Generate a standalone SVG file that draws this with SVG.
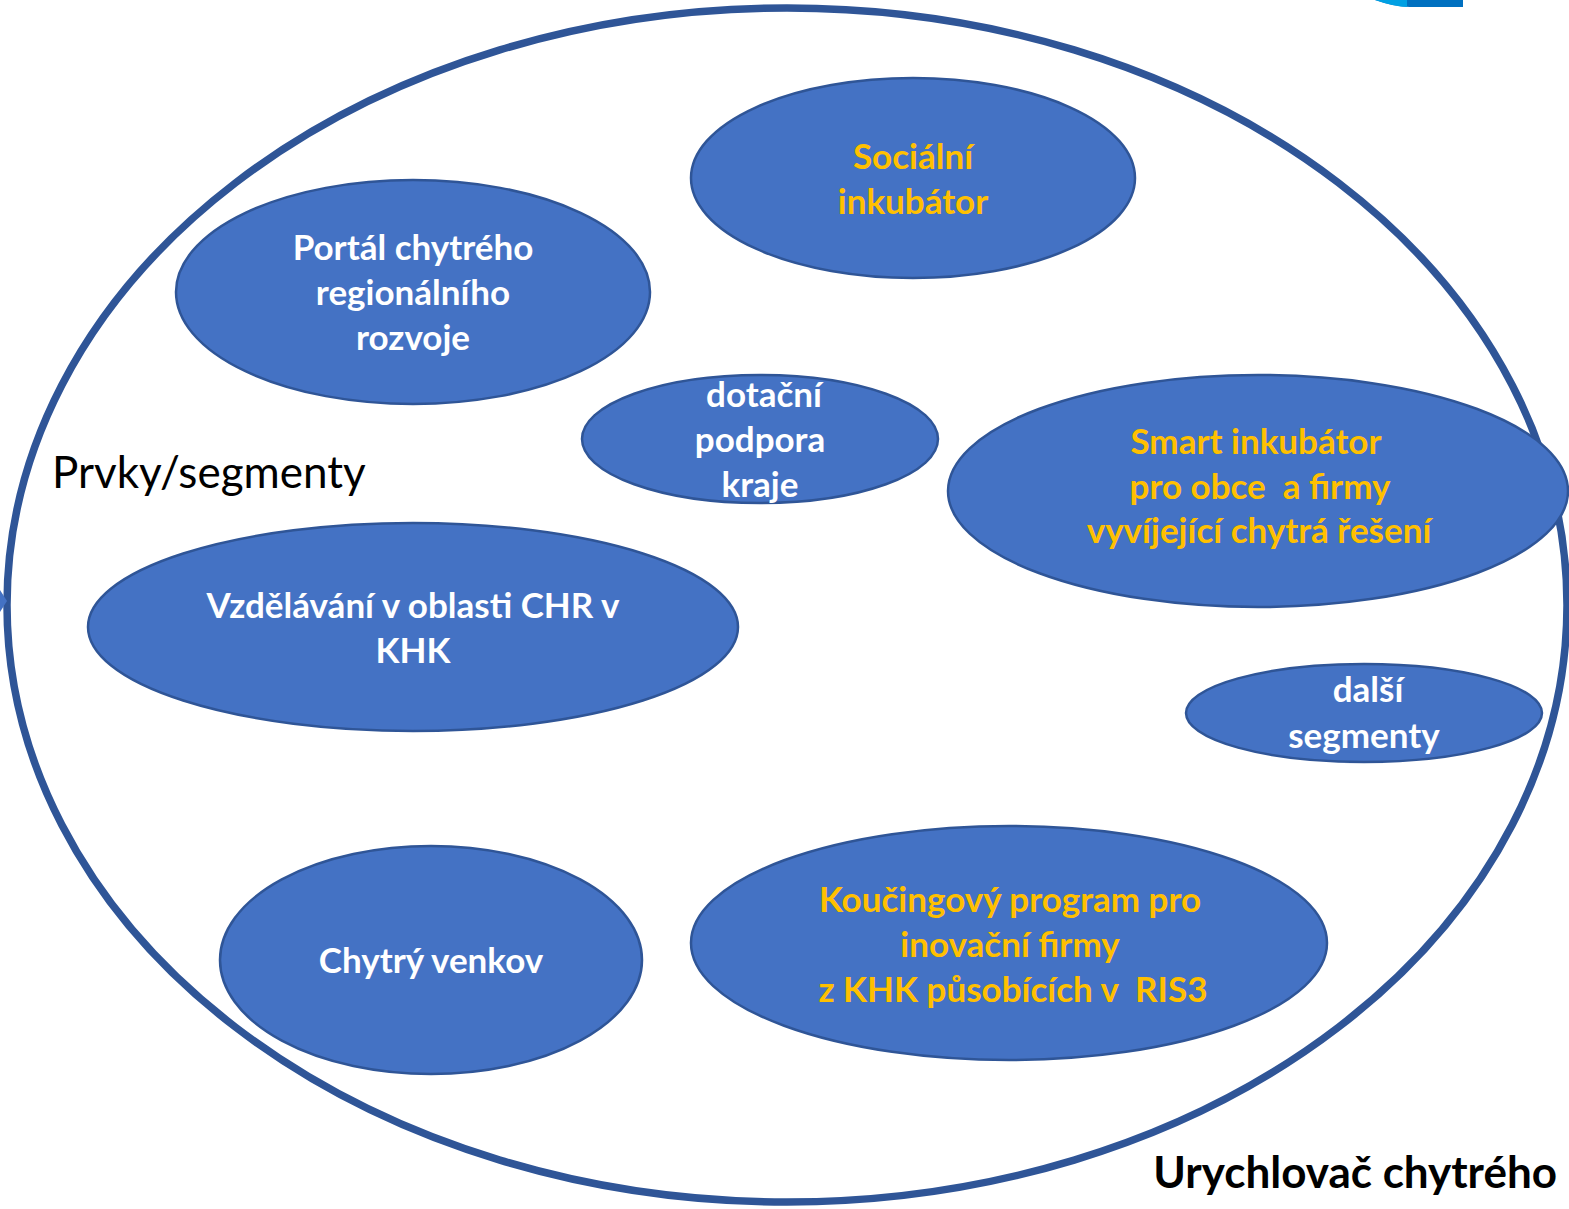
<svg xmlns="http://www.w3.org/2000/svg" width="1569" height="1209" viewBox="0 0 1569 1209">
<style>
.n{fill:#4472C4;stroke:#2F5597;stroke-width:2.5}
.t{font-family:Lato,"Open Sans","Liberation Sans",sans-serif;font-weight:bold;font-size:35px;text-anchor:middle;white-space:pre}
.w{fill:#FFFFFF}
.y{fill:#FFC000}
</style>
<rect width="1569" height="1209" fill="#FFFFFF"/>
<path d="M1375,0 Q1395,7 1410,7 L1463,7 L1463,0 Z" fill="#0070C0"/>
<path d="M1375,0 Q1395,7 1407,7 L1407,0 Z" fill="#00A0E3"/>
<g id="frame">
<ellipse cx="787" cy="605" rx="780" ry="597" fill="none" stroke="#2F5597" stroke-width="7.5"/>
<polygon points="0,590 7,601 0,612" fill="#4472C4"/>
</g>
<g id="socialni"><ellipse class="n" cx="913" cy="178" rx="222" ry="100"/>
<text class="t y" x="913" y="169">Sociální</text><text class="t y" x="913" y="214">inkubátor</text></g>
<g id="portal"><ellipse class="n" cx="413" cy="292" rx="237" ry="112"/>
<text class="t w" x="413" y="260">Portál chytrého</text><text class="t w" x="413" y="305">regionálního</text><text class="t w" x="413" y="350">rozvoje</text></g>
<g id="dotacni"><ellipse class="n" cx="760" cy="439" rx="178" ry="64"/>
<text class="t w" x="764" y="407">dotační</text><text class="t w" x="760" y="452">podpora</text><text class="t w" x="760" y="497">kraje</text></g>
<g id="smart"><ellipse class="n" cx="1258" cy="491" rx="310" ry="116"/>
<text class="t y" x="1256" y="454">Smart inkubátor</text><text class="t y" x="1260" y="499" xml:space="preserve">pro obce  a firmy</text><text class="t y" x="1259" y="543">vyvíjející chytrá řešení</text></g>
<g id="vzdelavani"><ellipse class="n" cx="413" cy="627" rx="325" ry="104"/>
<text class="t w" x="413" y="618">Vzdělávání v oblasti CHR v</text><text class="t w" x="413" y="663">KHK</text></g>
<g id="dalsi"><ellipse class="n" cx="1364" cy="713" rx="178" ry="49"/>
<text class="t w" x="1368" y="702">další</text><text class="t w" x="1364" y="748">segmenty</text></g>
<g id="venkov"><ellipse class="n" cx="431" cy="960" rx="211" ry="114"/>
<text class="t w" x="431" y="973">Chytrý venkov</text></g>
<g id="koucing"><ellipse class="n" cx="1009" cy="943" rx="318" ry="117"/>
<text class="t y" x="1010" y="912">Koučingový program pro</text><text class="t y" x="1010" y="957">inovační firmy</text><text class="t y" x="1013" y="1002" xml:space="preserve">z KHK působících v  RIS3</text></g>
<g id="connectors"/>
<text x="52" y="488" font-family="Lato,'Open Sans','Liberation Sans',sans-serif" font-size="44" fill="#000000">Prvky/segmenty</text>
<text x="1557" y="1188" text-anchor="end" font-family="Lato,'Open Sans','Liberation Sans',sans-serif" font-weight="bold" font-size="44" fill="#000000">Urychlovač chytrého</text>
</svg>
